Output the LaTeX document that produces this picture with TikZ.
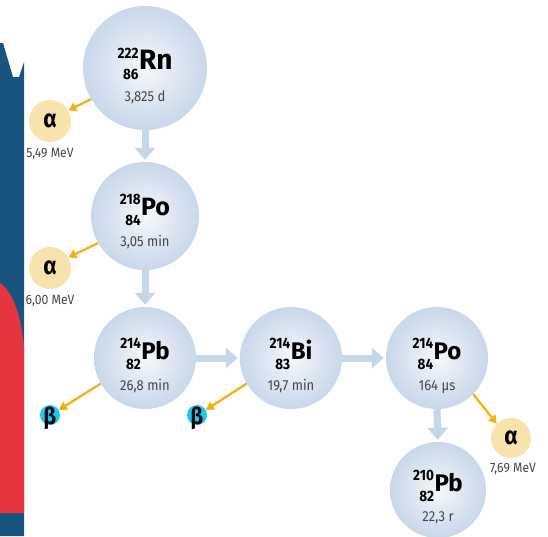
\documentclass[tikz,border=0pt]{standalone}
\usepackage{fontspec}
\setmainfont{Fira Sans}[FakeStretch=0.9]
\newfontfamily\symfont{Fira Sans}
\usetikzlibrary{arrows.meta}
\definecolor{nucin}{RGB}{245,248,252}
\definecolor{nucout}{RGB}{200,215,234}
\definecolor{flow}{RGB}{198,214,233}
\definecolor{decay}{RGB}{240,178,22}
\definecolor{alphaf}{RGB}{249,227,172}
\definecolor{betaf}{RGB}{28,198,240}
\definecolor{stripblue}{RGB}{25,84,128}
\definecolor{stripred}{RGB}{230,53,62}
\definecolor{txtgray}{RGB}{70,70,70}
\newcommand\iso[3]{\raisebox{-10pt}{\fontsize{15}{21}\selectfont\bfseries\begin{tabular}[b]{@{}r@{}}#1\\#2\end{tabular}}\kern0.5pt{\symfont\bfseries #3}}
\tikzset{
  nuc/.style={circle, inner sep=0pt, shade, inner color=nucin, outer color=nucout},
  isolab/.style={anchor=base, inner sep=0pt, text=black},
  halflife/.style={anchor=base, inner sep=0pt, text=txtgray, font=\fontsize{14.5}{15}\selectfont},
  flowarrow/.style={draw=flow, line width=7pt, -{Triangle[length=12pt,width=20pt]}, shorten >=2pt},
  decayarrow/.style={draw=decay, line width=2.3pt, -{Triangle[length=8pt,width=9pt]}},
  alphac/.style={circle, inner sep=0pt, fill=alphaf, minimum size=42pt, font=\fontsize{25}{25}\selectfont\bfseries},
  betac/.style={circle, inner sep=0pt, fill=betaf, minimum size=20pt},
  betatxt/.style={inner sep=0pt, font=\fontsize{23}{23}\selectfont\bfseries},
  mev/.style={anchor=north, inner sep=0pt, text=txtgray, font=\fontsize{13.5}{14}\selectfont},
}
\begin{document}
\begin{tikzpicture}[x=1pt,y=-1pt]
\useasboundingbox (0,0) rectangle (548,536);
\fill[white] (0,0) rectangle (548,536);
% left strip
\fill[stripblue] (0,43) -- (3,43) -- (13,77) -- (19,77) -- (24,62) -- (24,536) -- (0,536) -- cycle;
\fill[stripred] (0,283) .. controls (11,290) and (21,312) .. (24,347) -- (24,513) -- (0,513) -- cycle;
% nuclei
\node[nuc, minimum size=124pt] (rn) at (145,68) {};
\node[nuc, minimum size=108pt] (po218) at (145,216) {};
\node[nuc, minimum size=102pt] (pb214) at (145,358) {};
\node[nuc, minimum size=102pt] (bi214) at (291,358) {};
\node[nuc, minimum size=102pt] (po214) at (437,358) {};
\node[nuc, minimum size=96pt] (pb210) at (438,490) {};
% labels
\node[isolab, font=\fontsize{28}{28}\selectfont] (rnL) at (145,69) {\iso{222}{86}{Rn}};
\node[halflife] (rnH) at (145,101) {3,825 d};
\node[isolab, font=\fontsize{25}{25}\selectfont] (po218L) at (145,215) {\iso{218}{84}{Po}};
\node[halflife] (po218H) at (145,246) {3,05 min};
\node[isolab, font=\fontsize{24}{24}\selectfont] (pb214L) at (145,359) {\iso{214}{82}{Pb}};
\node[halflife] (pb214H) at (145,390) {26,8 min};
\node[isolab, font=\fontsize{24}{24}\selectfont] (bi214L) at (291,359) {\iso{214}{83}{Bi}};
\node[halflife] (bi214H) at (291,390) {19,7 min};
\node[isolab, font=\fontsize{24}{24}\selectfont] (po214L) at (437,359) {\iso{214}{84}{Po}};
\node[halflife] (po214H) at (437,390) {164 µs};
\node[isolab, font=\fontsize{24}{24}\selectfont] (pb210L) at (438,491) {\iso{210}{82}{Pb}};
\node[halflife] (pb210H) at (438,521) {22,3 r};
% decay chain arrows
\draw[flowarrow] (rn.south) -- (po218.north);
\draw[flowarrow] (po218.south) -- (pb214.north);
\draw[flowarrow] (pb214.east) -- (bi214.west);
\draw[flowarrow] (bi214.east) -- (po214.west);
\draw[flowarrow] (po214.south) -- (pb210.north);
% particles
\node[alphac] (a1) at (50,121) {α};
\node[mev] (a1L) at ([yshift=-6pt]a1.south) {5,49 MeV};
\node[alphac] (a2) at (50,268) {α};
\node[mev] (a2L) at ([yshift=-6pt]a2.south) {6,00 MeV};
\node[alphac, minimum size=40pt] (a3) at (511,438) {α};
\node[mev] (a3L) at ([xshift=2pt,yshift=-5pt]a3.south) {7,69 MeV};
\node[betac] (b1) at (50,415) {};
\node[betatxt] (b1t) at (50,418) {β};
\node[betac] (b2) at (197,415) {};
\node[betatxt] (b2t) at (197,418) {β};
% emission arrows
\draw[decayarrow] (rn.210) -- (a1.30);
\draw[decayarrow] (po218.210) -- (a2.30);
\draw[decayarrow] (pb214.210) -- (b1.30);
\draw[decayarrow] (bi214.210) -- (b2.30);
\draw[decayarrow] (po214.-45) -- (a3.135);
\end{tikzpicture}
\end{document}
